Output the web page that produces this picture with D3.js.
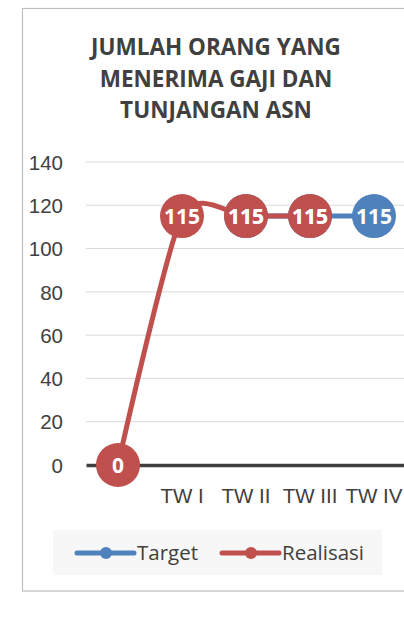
<!DOCTYPE html>
<html>
<head>
  <meta charset="utf-8">
  <title>Jumlah Orang yang Menerima Gaji dan Tunjangan ASN</title>
  <style>
    body { margin: 0; background: white; font-family: "Open Sans", sans-serif; }
    svg { display: block; }
    .tick-label { font-size: 20.5px; fill: #404040; }
    .title { font-size: 22.5px; font-weight: bold; fill: #404040; }
    .data-label { font-size: 21px; font-weight: bold; fill: white; }
  </style>
  <script src="https://d3js.org/d3.v7.min.js"></script>
</head>
<body>
  <div id="chart"></div>
  <script>
    // chart data
    const titleLines = ["JUMLAH ORANG YANG", "MENERIMA GAJI DAN", "TUNJANGAN ASN"];
    const categories = ["", "TW I", "TW II", "TW III", "TW IV"];
    const target = [null, null, 115, 115, 115];
    const realisasi = [0, 115, 115, 115, null];
    const yTicks = [0, 20, 40, 60, 80, 100, 120, 140];

    const seriesList = [
      { name: "Target", values: target, color: "#4f81bd", smooth: false },
      { name: "Realisasi", values: realisasi, color: "#c0504d", smooth: true }
    ];

    const width = 404, height = 637;
    const plot = { left: 86, right: 406, top: 162, bottom: 465 };

    const svg = d3.select("#chart").append("svg")
      .attr("width", width)
      .attr("height", height);

    // outer chart border
    svg.append("rect")
      .attr("x", 22.5).attr("y", 8.5)
      .attr("width", 400).attr("height", 582.5)
      .attr("fill", "white")
      .attr("stroke", "#bfbfbf")
      .attr("stroke-width", 1.2);

    // title
    svg.append("text")
      .attr("class", "title")
      .attr("text-anchor", "middle")
      .selectAll("tspan")
      .data(titleLines)
      .enter().append("tspan")
      .attr("x", 216)
      .attr("y", (d, i) => 55 + i * 31.7)
      .text(d => d);

    // scales
    const x = d3.scaleBand()
      .domain(categories.map((c, i) => i))
      .range([plot.left, plot.right]);
    const y = d3.scaleLinear()
      .domain([0, 140])
      .range([plot.bottom, plot.top]);
    const cx = i => x(i) + x.bandwidth() / 2;

    // gridlines
    svg.append("g")
      .selectAll("line")
      .data(yTicks.filter(t => t > 0))
      .enter().append("line")
      .attr("x1", plot.left).attr("x2", plot.right)
      .attr("y1", d => y(d)).attr("y2", d => y(d))
      .attr("stroke", "#d9d9d9")
      .attr("stroke-width", 1);

    // y axis labels
    const yAxis = svg.append("g")
      .attr("transform", "translate(63,0)")
      .call(d3.axisLeft(y).tickValues(yTicks).tickSize(0).tickPadding(0));
    yAxis.select(".domain").remove();
    yAxis.selectAll("text")
      .attr("class", "tick-label")
      .attr("font-family", null)
      .attr("font-size", null)
      .attr("fill", null)
      .attr("dy", "0.35em");

    // category axis
    const xAxis = svg.append("g")
      .attr("transform", `translate(0,${plot.bottom})`)
      .call(d3.axisBottom(x).tickFormat(i => categories[i]).tickSize(0).tickPadding(0));
    xAxis.select(".domain")
      .attr("stroke", "#404040")
      .attr("stroke-width", 3.5);
    xAxis.selectAll("text")
      .attr("class", "tick-label")
      .attr("font-family", null)
      .attr("font-size", null)
      .attr("fill", null)
      .attr("dy", null)
      .attr("y", 38);

    // series lines and markers
    seriesList.forEach(s => {
      const pts = s.values.map((v, i) => ({ i, v })).filter(d => d.v !== null);
      const line = d3.line()
        .x(d => cx(d.i))
        .y(d => y(d.v))
        .curve(s.smooth ? d3.curveCardinal.tension(0.3) : d3.curveLinear);
      svg.append("path")
        .datum(pts)
        .attr("d", line)
        .attr("fill", "none")
        .attr("stroke", s.color)
        .attr("stroke-width", 5)
        .attr("stroke-linejoin", "round");
      svg.append("g")
        .selectAll("circle")
        .data(pts)
        .enter().append("circle")
        .attr("cx", d => cx(d.i))
        .attr("cy", d => y(d.v))
        .attr("r", 22)
        .attr("fill", s.color);
    });

    // data labels on top
    seriesList.forEach(s => {
      const pts = s.values.map((v, i) => ({ i, v })).filter(d => d.v !== null);
      svg.append("g")
        .selectAll("text")
        .data(pts)
        .enter().append("text")
        .attr("class", "data-label")
        .attr("x", d => cx(d.i))
        .attr("y", d => y(d.v))
        .attr("dy", "0.36em")
        .attr("text-anchor", "middle")
        .text(d => d.v);
    });

    // legend
    const legend = svg.append("g");
    legend.append("rect")
      .attr("x", 53).attr("y", 530)
      .attr("width", 329).attr("height", 45)
      .attr("fill", "#f7f7f7");
    const legendItems = legend.selectAll("g")
      .data(seriesList)
      .enter().append("g")
      .attr("transform", (d, i) => `translate(${[77, 222][i]},553)`);
    legendItems.append("line")
      .attr("x1", 0).attr("x2", 57)
      .attr("stroke", d => d.color)
      .attr("stroke-width", 5)
      .attr("stroke-linecap", "round");
    legendItems.append("circle")
      .attr("cx", 29).attr("r", 6)
      .attr("fill", d => d.color);
    legendItems.append("text")
      .attr("class", "tick-label")
      .attr("x", 60)
      .attr("dy", "0.35em")
      .text(d => d.name);
  </script>
</body>
</html>
